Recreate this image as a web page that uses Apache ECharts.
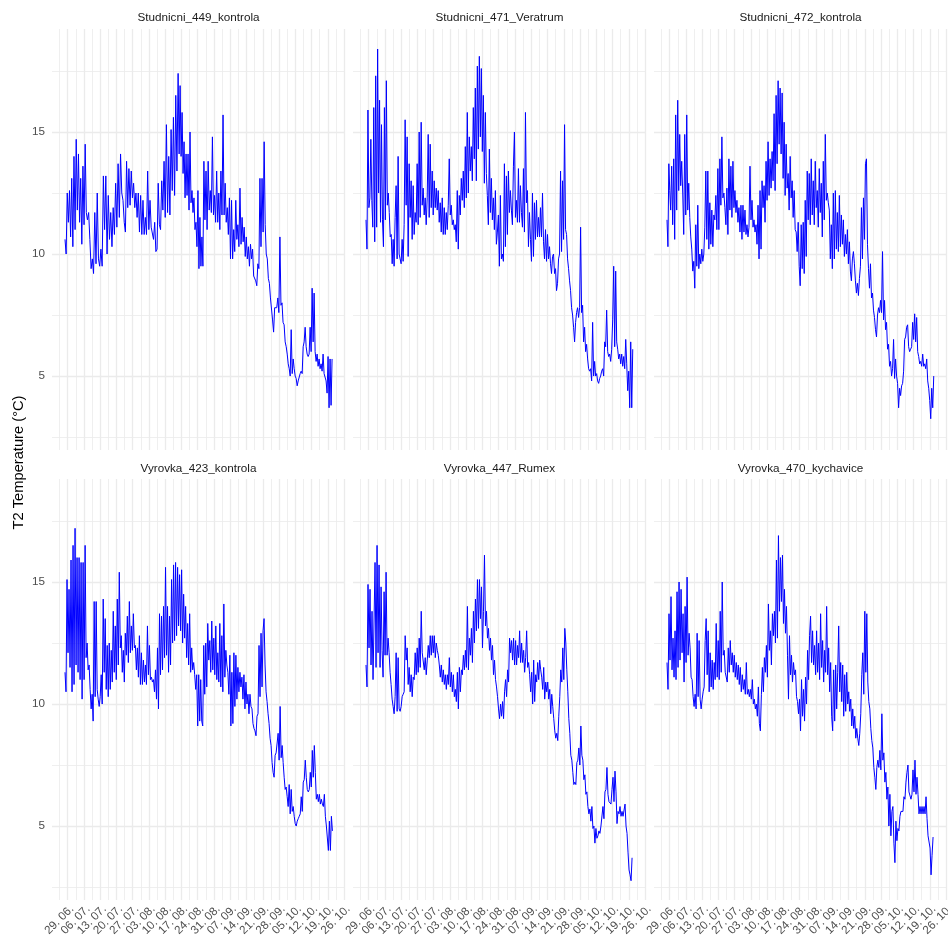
<!DOCTYPE html>
<html>
<head>
<meta charset="utf-8">
<script src="https://cdn.jsdelivr.net/npm/echarts@6/dist/echarts.min.js"></script>
<style>html,body{margin:0;padding:0;background:#fff}#chart{width:948px;height:940px}</style>
</head>
<body>
<div id="chart"></div>
<script>
// ---------------- DATA ----------------
const panelTitles = ['Studnicni_449_kontrola', 'Studnicni_471_Veratrum', 'Studnicni_472_kontrola',
                     'Vyrovka_423_kontrola', 'Vyrovka_447_Rumex', 'Vyrovka_470_kychavice'];
// weekly date ticks (position = index * 7 days after 29. 06.)
const tickLabels = ['29. 06.', '06. 07.', '13. 07.', '20. 07.', '27. 07.', '03. 08.', '10. 08.', '17. 08.', '24. 08.',
                    '31. 08.', '07. 09.', '14. 09.', '21. 09.', '28. 09.', '05. 10.', '12. 10.', '19. 10.', '26. 10.'];
const yTickValues = [5, 10, 15];
const yMinorValues = [2.5, 7.5, 12.5, 17.5];

// temperature readings (°C), in time order
const s449 = [10.6,10.0,12.5,11.3,12.6,10.7,13.1,10.3,14.0,11.0, 14.7,11.8,14.1,11.3,13.1,10.4,13.6,11.2,14.5,11.7,
  11.4,11.7,10.6,9.4,9.8,9.2,11.7,9.6,12.5,9.8, 9.5,10.2,9.5,13.2,11.0,13.2,10.0,12.4,10.6,11.7,
  10.3,11.9,10.8,12.9,11.1,13.7,11.5,14.1,12.5,12.2, 11.3,10.9,13.8,11.9,13.5,12.0,13.4,12.3,12.9,11.9,
  12.5,11.5,12.5,10.9,12.4,10.8,12.2,10.8,11.5,10.8, 13.4,11.0,12.2,11.1,11.1,10.6,11.3,10.1,10.2,12.9,
  11.2,11.0,13.0,11.8,13.8,11.5,15.3,11.7,14.0,11.6, 15.1,12.6,15.6,12.4,16.5,13.4,17.4,14.1,16.9,14.0,
  15.8,13.3,14.6,12.3,14.1,12.4,14.1,11.8,15.0,12.1, 12.6,11.7,12.3,11.0,11.3,10.3,12.6,9.4,11.5,9.5,
  10.7,9.5,13.8,11.4,13.4,11.0,13.8,11.8,12.6,11.7, 14.8,11.6,12.4,11.3,13.4,11.3,12.5,11.0,13.4,11.6,
  15.7,11.6,12.9,11.3,11.9,10.8,12.3,9.8,12.2,9.8, 11.0,10.1,12.2,10.6,11.2,10.3,12.7,10.4,11.5,10.5,
  11.1,9.9,10.7,9.8,10.3,9.5,10.4,9.8,10.2,9.1, 9.1,8.9,8.7,9.6,9.4,13.1,10.3,13.1,10.9,14.6,
  11.2,10.0,9.8,9.0,8.8,8.2,8.2,7.3,6.8,7.8, 7.8,7.8,8.2,7.6,10.7,7.9,8.0,7.2,7.1,6.4,
  6.2,5.9,5.5,5.3,5.0,6.9,5.1,5.7,5.3,5.0, 4.9,4.6,4.8,4.8,5.1,5.2,5.1,6.2,6.4,7.0,
  6.2,5.9,5.8,5.9,7.0,6.0,8.6,6.4,8.4,6.0, 5.6,5.9,5.4,5.7,5.3,5.5,5.2,5.9,5.1,5.1,
  4.8,4.3,5.8,3.7,5.7,3.8,5.7];
// [reading index, day after 29. 06.]
const s449Times = [[0,-1.15],[20,8.5],[50,24.35],[96,47.55],[122,58.65],[150,71.47],[200,94.09],[246,113.83]];

const s471 = [11.4,10.2,15.9,11.9,12.3,14.7,12.2,11.1,16.0,10.5, 17.3,11.1,18.4,12.5,16.3,11.3,15.3,11.4,10.3,16.0,
  11.4,17.1,12.0,12.5,11.7,10.7,10.8,9.6,10.6,9.5, 11.5,12.8,9.8,14.0,10.0,9.8,9.6,10.6,9.7,11.2,
  15.5,12.0,14.8,9.9,13.7,11.5,13.0,10.6,12.8,10.8, 11.7,11.3,13.7,11.2,15.0,11.5,15.4,12.0,12.7,11.6,
  12.3,11.2,12.3,14.9,11.5,14.5,11.9,13.4,11.6,13.0, 11.9,12.7,11.8,12.6,11.3,12.1,10.9,12.3,10.8,11.9,
  10.8,11.7,11.0,12.0,13.9,11.6,12.0,11.2,11.4,11.0, 11.2,10.5,12.6,10.2,12.4,11.6,13.1,12.2,13.4,11.9,
  14.4,12.3,15.8,12.5,14.8,13.4,14.4,13.0,16.0,13.9, 16.8,13.0,17.7,14.3,18.1,14.8,17.6,14.2,16.5,12.9,
  15.8,13.3,12.4,11.2,14.3,11.7,13.1,11.4,12.3,11.0, 12.6,10.4,10.9,11.6,9.5,12.4,9.8,10.0,9.7,13.7,
  10.3,13.2,10.8,13.4,11.7,12.6,11.8,11.2,13.6,15.0, 11.5,12.2,11.3,13.5,11.3,12.8,11.7,11.1,13.5,10.9,
  15.8,12.1,12.6,10.3,11.7,10.6,9.7,12.5,9.9,12.1, 10.6,12.2,10.7,11.5,10.7,11.9,10.7,12.5,10.5,9.8,
  11.0,9.7,10.8,9.8,10.3,9.6,9.2,9.9,10.0,9.2, 9.4,8.5,8.8,9.8,10.0,13.4,10.1,13.0,10.6,15.3,
  11.0,10.8,9.8,9.4,8.9,8.5,7.8,7.5,7.0,6.4, 7.2,7.6,7.8,7.4,7.8,11.1,7.6,7.9,6.4,7.0,
  6.0,6.3,5.7,5.3,5.2,5.3,4.8,7.2,5.0,5.6, 5.0,5.1,4.8,4.7,4.9,5.0,5.2,5.3,5.0,6.4,
  6.2,7.7,6.0,5.8,5.9,5.6,6.1,7.3,9.5,6.2, 9.3,6.4,6.1,5.7,5.9,5.5,5.9,5.4,5.8,5.3,
  6.5,5.5,4.4,5.2,3.7,6.4,3.7,6.1];
const s471Times = [[0,-1.15],[29,10.95],[267,113.69]];

const s472 = [11.4,10.3,13.7,12.6,11.8,13.6,11.2,13.9,10.6,15.7, 11.8,16.3,12.6,14.9,12.8,13.8,12.5,10.8,14.9,11.6,
  15.7,11.8,12.9,11.5,10.7,10.2,9.3,9.7,8.6,11.2, 9.5,12.0,9.4,10.0,9.6,10.2,9.7,10.0,11.1,13.4,
  10.6,13.4,10.2,12.1,10.4,11.8,10.3,11.6,11.4,12.4, 11.0,13.5,11.0,13.9,12.0,14.8,12.3,12.5,11.9,11.2,
  12.7,10.8,13.9,11.8,13.6,11.5,13.8,11.9,12.6,11.7, 12.2,11.3,11.9,10.9,12.0,10.6,12.0,10.9,11.8,10.8,
  11.2,10.7,11.1,13.6,11.4,12.2,11.1,11.4,10.9,11.2, 10.4,12.0,9.8,12.6,10.2,13.0,11.9,12.8,11.3,13.8,
  12.2,14.6,12.4,13.9,12.7,14.2,13.0,15.75,12.6,16.5, 13.7,17.1,14.5,16.8,14.1,16.6,13.1,15.4,12.4,14.5,
  12.7,13.3,11.8,14.0,12.3,13.0,11.5,12.6,11.0,10.9, 10.1,11.3,9.5,8.7,11.2,9.4,11.3,9.2,12.2,9.9,
  13.4,11.4,13.3,11.2,13.9,11.6,13.0,11.2,13.8,11.9, 12.6,11.1,13.5,11.7,12.9,10.7,13.8,11.4,14.9,12.2,
  12.5,12.1,11.8,9.8,11.2,9.4,12.5,9.8,12.6,10.2, 11.7,10.1,12.4,10.3,11.6,10.4,11.4,9.9,10.8,10.0,
  11.0,9.6,10.5,9.3,8.9,9.8,10.1,9.6,8.9,8.4, 8.8,8.3,9.0,9.5,11.9,9.8,12.3,10.6,13.7,13.9,
  10.4,9.4,8.6,9.6,8.2,8.4,7.7,7.4,6.9,6.6, 7.5,7.8,7.6,8.1,7.6,10.1,7.3,8.1,6.9,7.2,
  6.1,6.3,5.4,5.6,5.0,5.3,6.5,4.9,5.7,5.0, 4.7,3.7,4.5,4.2,4.6,4.7,5.2,6.5,6.6,7.0,
  7.1,6.2,6.0,6.1,6.2,7.2,6.5,7.55,6.4,7.4, 6.0,5.8,5.5,5.6,5.4,5.9,5.4,5.5,5.3,5.7,
  4.8,4.5,4.0,3.25,4.5,3.7,5.0];
const s472Times = [[0,-1.15],[4,0.43],[266,113.69]];

const v423 = [11.3,10.5,15.1,12.1,14.7,11.5,15.9,10.5,16.5,10.8, 17.2,11.6,16.0,11.3,16.0,11.0,15.8,10.2,15.8,11.0,
  16.5,11.9,12.5,11.4,11.6,10.6,9.8,10.4,9.3,14.2, 10.3,14.2,10.6,10.2,9.9,10.3,11.2,10.0,14.3,11.3,
  13.5,10.6,12.4,10.3,12.5,10.6,12.2,10.9,13.8,11.3, 13.2,11.0,14.3,11.6,15.4,12.3,12.8,11.3,12.2,10.9,
  12.9,12.0,13.6,11.7,14.2,12.1,13.2,12.2,13.7,12.3, 12.4,11.4,12.3,11.1,12.8,10.8,12.1,10.8,11.8,10.9,
  11.6,10.8,13.2,11.2,12.4,11.0,11.1,10.9,11.0,10.5, 11.4,10.2,12.3,9.8,13.7,11.2,13.6,11.4,14.0,11.9,
  15.6,12.0,14.0,11.3,13.6,11.6,15.1,12.5,15.7,12.6, 15.8,12.8,15.6,13.2,15.3,13.0,15.5,12.5,14.5,12.7,
  14.0,11.9,13.3,11.6,13.7,11.3,12.3,11.4,11.7,11.2, 10.6,11.2,9.1,11.2,9.3,11.0,9.3,9.1,12.4,10.4,
  12.5,10.7,13.3,11.8,12.6,11.3,13.4,11.4,12.7,11.2, 13.2,11.0,12.1,10.9,13.3,10.7,12.8,10.5,14.1,11.1,
  12.2,11.6,11.3,10.4,12.0,9.1,11.3,9.2,12.1,9.9, 12.0,10.2,11.5,10.5,11.3,10.7,11.1,10.2,11.2,9.8,
  10.9,10.0,10.4,9.6,10.4,9.9,9.8,9.2,9.0,8.9, 8.7,9.5,9.6,12.4,10.3,12.9,10.7,13.0,13.5,11.6,
  10.5,10.1,9.6,9.2,8.6,8.3,7.6,7.2,7.0,7.9, 8.0,8.0,8.8,7.7,9.9,7.8,8.3,7.6,7.0,6.5,
  6.6,6.2,5.8,6.7,5.5,6.5,5.6,5.8,5.4,5.1, 5.0,5.2,5.3,5.4,5.5,6.2,5.6,6.8,6.9,7.7,
  7.0,6.5,6.4,6.5,7.2,6.6,8.1,7.0,8.3,7.2, 6.1,6.3,6.0,6.3,5.9,6.1,5.9,5.8,6.3,5.4,
  5.0,5.0,4.0,5.2,4.0,5.4,4.8];
const v423Times = [[0,-1.15],[266,113.98]];

const v447 = [11.6,10.7,14.9,12.3,14.7,11.6,13.8,11.0,11.0,15.8, 11.5,16.5,12.1,15.7,11.5,14.8,12.2,11.1,14.6,12.0,
  15.4,12.0,12.7,12.1,11.3,10.8,10.2,9.9,9.6,10.3, 12.1,9.7,11.9,9.8,9.7,9.9,10.3,10.4,10.5,12.8,
  11.8,12.3,10.8,11.5,10.5,11.2,10.3,11.1,11.0,12.1, 11.2,12.3,11.3,12.7,11.5,13.8,12.1,12.1,11.4,11.9,
  11.2,11.8,12.4,11.9,12.8,12.0,12.8,12.1,12.8,11.9, 12.5,12.2,12.0,11.6,11.1,11.6,10.9,11.4,10.8,11.2,
  10.6,11.2,10.8,11.9,10.7,11.3,10.5,11.2,10.3,10.6, 10.1,11.3,9.8,11.5,10.5,11.4,11.2,12.0,11.4,12.2,
  11.5,14.0,11.4,12.7,12.0,13.1,11.7,13.8,12.5,14.3, 13.0,15.1,13.1,15.1,13.5,14.8,12.3,13.8,16.1,13.2,
  13.8,12.7,13.1,12.2,12.7,11.8,12.4,11.2,11.8,11.0, 10.7,10.3,9.8,9.4,10.0,9.5,10.1,9.4,10.5,11.0,
  10.3,11.4,10.9,12.7,12.1,12.6,11.8,12.7,11.6,12.6, 11.6,12.4,11.9,13.0,11.7,12.5,11.7,12.2,11.3,11.9,
  13.0,11.5,11.7,11.2,10.5,11.3,10.0,11.8,10.1,11.2, 10.9,11.7,11.0,11.8,11.4,11.1,10.6,11.5,10.2,10.9,
  10.5,10.9,10.2,10.6,9.6,10.4,9.9,9.4,8.9,8.6, 8.8,8.5,9.5,10.3,11.4,10.9,12.3,11.0,13.1,12.5,
  11.4,10.5,9.4,8.8,7.9,7.7,7.2,6.7,6.8,6.7, 7.6,7.7,8.2,7.5,9.1,7.9,7.7,6.9,7.1,6.3,
  6.4,5.8,5.5,5.7,5.2,5.8,4.9,5.0,4.3,4.9, 4.5,4.6,4.8,4.7,5.0,5.0,5.8,5.3,6.4,6.5,
  7.4,6.3,6.0,6.0,5.9,6.5,7.0,6.0,7.25,6.4, 5.1,5.6,5.5,5.8,5.4,5.6,5.4,5.4,5.9,5.0,
  4.7,3.9,3.2,3.0,2.76,3.7];
const v447Times = [[0,-1.15],[265,113.4]];

const v470 = [11.7,10.6,13.7,11.8,14.4,11.4,12.7,11.1,13.0,11.0, 14.6,11.5,15.0,11.8,14.7,12.1,13.7,10.9,14.0,11.7,
  15.2,12.0,12.9,12.3,11.1,11.0,10.3,9.9,10.4,9.8, 12.9,10.3,12.6,10.2,9.8,10.2,10.5,10.7,12.6,13.5,
  11.2,13.0,10.5,12.1,10.7,11.8,10.6,11.7,11.0,13.3, 11.1,12.6,11.0,13.8,11.3,15.0,12.0,12.2,11.3,11.3,
  10.9,12.3,11.3,12.6,11.6,12.1,11.3,12.0,11.1,11.7, 11.0,11.6,10.8,11.5,10.5,11.2,10.6,11.0,10.4,11.7,
  10.4,10.6,10.3,10.6,10.2,11.0,10.0,10.2,9.8,10.0, 9.5,10.7,9.2,8.9,10.4,11.5,10.5,11.9,11.3,12.4,
  11.1,14.1,12.2,13.0,11.6,13.7,12.8,13.8,12.5,15.9, 12.7,16.9,13.8,16.0,14.2,16.1,13.3,14.7,12.9,14.0,
  12.0,10.2,12.8,11.2,12.0,10.9,11.7,11.2,11.4,10.3, 10.1,9.6,10.2,8.9,11.0,9.5,10.6,9.3,11.1,10.0,
  12.2,11.0,12.8,13.6,11.7,13.0,11.6,12.4,11.2,13.0, 11.3,12.5,11.0,13.7,11.5,12.6,10.9,12.2,11.3,14.0,
  11.2,12.3,10.5,11.7,9.5,8.9,11.4,9.3,11.6,9.8, 11.3,13.2,10.5,11.7,10.1,11.6,9.5,11.2,9.7,11.3,
  10.0,10.5,9.7,10.2,9.1,9.8,9.0,9.5,8.6,9.0, 8.6,8.3,8.8,9.6,11.2,12.1,10.4,13.8,11.3,13.7,
  10.9,10.1,9.8,9.0,8.5,8.2,7.4,7.0,6.5,7.4, 7.7,7.4,8.1,7.3,9.6,7.7,8.0,6.8,7.2,6.1,
  6.6,5.0,6.3,4.6,5.6,5.8,4.3,3.5,5.2,4.4, 4.9,4.8,5.4,5.6,5.6,5.6,6.2,6.1,6.8,7.2,
  7.5,6.4,6.4,6.1,6.3,7.3,6.4,7.7,6.3,7.0, 6.3,5.5,5.8,5.5,5.8,5.5,5.8,5.5,6.2,5.3,
  4.6,4.6,4.1,3.0,3.8,4.55];
const v470Times = [[0,-1.15],[265,113.4]];

// ---------------- BUILD ----------------
const panelValues = [s449, s471, s472, v423, v447, v470];
const panelTimes = [s449Times, s471Times, s472Times, v423Times, v447Times, v470Times];

function dayOfReading(i, knots) {
  for (let j = 0; j < knots.length - 1; j++) {
    const a = knots[j], b = knots[j + 1];
    if (i <= b[0] || j === knots.length - 2) {
      return a[1] + (i - a[0]) * (b[1] - a[1]) / (b[0] - a[0]);
    }
  }
  return knots[0][1];
}

const X_MIN = -6.75, X_MAX = 119.4;
const Y_MIN = 1.97, Y_MAX = 19.22;
const colLeft = [52, 353, 654];
const rowTop = [29, 479];
const panelW = 293, panelH = 421;
const FONT = '"Liberation Sans", Arial, Helvetica, sans-serif';
const GRID_COLOR = '#EBEBEB';

const xMajor = tickLabels.map((_, i) => i * 7);
const xMinor = tickLabels.map((_, i) => i * 7 - 3.5).filter(v => v > X_MIN && v < X_MAX);
// labels split over two axes so neighbouring rotated labels never get auto-hidden
const xLabelEven = xMajor.filter((_, i) => i % 2 === 0);
const xLabelOdd = xMajor.filter((_, i) => i % 2 === 1);

function xLabelStyle(values) {
  return {
    show: true, customValues: values, rotate: 45, align: 'right', verticalAlign: 'top', margin: 3,
    fontSize: 11.7, fontFamily: FONT, color: '#4D4D4D', hideOverlap: false,
    showMinLabel: true, showMaxLabel: true,
    formatter: v => tickLabels[Math.round(v / 7)] || ''
  };
}

const grids = [], xAxes = [], yAxes = [], series = [], graphics = [];
for (let g = 0; g < 6; g++) {
  const col = g % 3, row = Math.floor(g / 3);
  grids.push({ left: colLeft[col], top: rowTop[row], width: panelW, height: panelH,
               containLabel: false, outerBoundsMode: 'none' });
  const bottomRow = row === 1, leftCol = col === 0;
  // major x (grid + even labels) -- series axis
  xAxes.push({
    type: 'value', gridIndex: g, position: 'bottom', offset: 0, min: X_MIN, max: X_MAX, z: 1,
    axisLine: { show: false, onZero: false },
    axisTick: { show: false, customValues: xMajor },
    splitLine: { show: true, lineStyle: { color: GRID_COLOR, width: 1.3 } },
    axisLabel: bottomRow ? xLabelStyle(xLabelEven) : { show: false }
  });
  // minor x (grid + odd labels)
  xAxes.push({
    type: 'value', gridIndex: g, position: 'bottom', offset: 0, min: X_MIN, max: X_MAX, z: 0,
    axisLine: { show: false, onZero: false },
    axisTick: { show: false, customValues: xMinor },
    splitLine: { show: true, lineStyle: { color: GRID_COLOR, width: 0.8 } },
    axisLabel: bottomRow ? xLabelStyle(xLabelOdd) : { show: false }
  });
  // major y
  yAxes.push({
    type: 'value', gridIndex: g, position: 'left', offset: 0, min: Y_MIN, max: Y_MAX,
    axisLine: { show: false, onZero: false },
    axisTick: { show: false, customValues: yTickValues },
    splitLine: { show: true, lineStyle: { color: GRID_COLOR, width: 1.3 } },
    axisLabel: leftCol ? { show: true, customValues: yTickValues, margin: 7, fontSize: 11.7,
                           showMinLabel: true, showMaxLabel: true,
                           fontFamily: FONT, color: '#4D4D4D' } : { show: false }
  });
  // minor y
  yAxes.push({
    type: 'value', gridIndex: g, position: 'left', offset: 0, min: Y_MIN, max: Y_MAX,
    axisLine: { show: false, onZero: false },
    axisTick: { show: false, customValues: yMinorValues },
    splitLine: { show: true, lineStyle: { color: GRID_COLOR, width: 0.8 } },
    axisLabel: { show: false }
  });

  const vals = panelValues[g], knots = panelTimes[g];
  series.push({
    type: 'line', xAxisIndex: 2 * g, yAxisIndex: 2 * g,
    data: vals.map((v, i) => [dayOfReading(i, knots), v]),
    showSymbol: false, symbol: 'none', silent: true,
    lineStyle: { color: '#0000FF', width: 1 },
    z: 5
  });

  graphics.push({
    type: 'text', x: colLeft[col] + panelW / 2, y: row === 0 ? 17.3 : 468.3, silent: true,
    style: { text: panelTitles[g], font: '11.7px ' + FONT, fill: '#1A1A1A',
             align: 'center', verticalAlign: 'middle', textAlign: 'center', textVerticalAlign: 'middle' }
  });
}
graphics.push({
  type: 'text', x: 19, y: 462.5, rotation: Math.PI / 2, silent: true,
  style: { text: 'T2 Temperature (°C)', font: '14.7px ' + FONT, fill: '#000000',
           align: 'center', verticalAlign: 'middle', textAlign: 'center', textVerticalAlign: 'middle' }
});

const chart = echarts.init(document.getElementById('chart'), null, { renderer: 'canvas' });
chart.setOption({
  animation: false,
  backgroundColor: '#FFFFFF',
  grid: grids,
  xAxis: xAxes,
  yAxis: yAxes,
  series: series,
  graphic: graphics
});
</script>
</body>
</html>
